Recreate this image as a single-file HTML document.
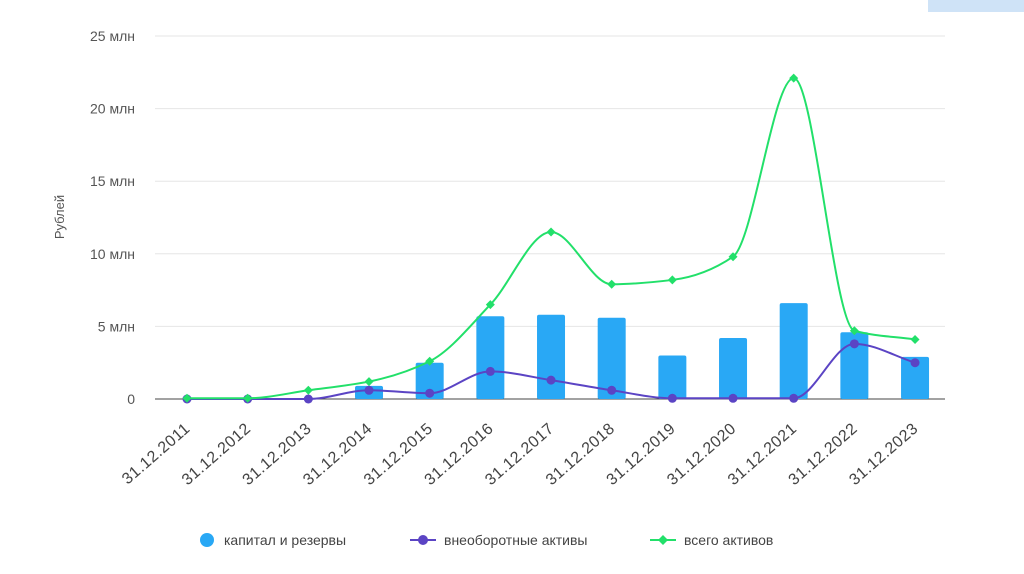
<!DOCTYPE html>
<html><head><meta charset="utf-8"><style>
body{margin:0;background:#fff;}
svg{display:block;font-family:"Liberation Sans",sans-serif;}
</style></head><body>
<svg id="c" width="1024" height="574">
<rect x="928" y="0" width="96" height="12" fill="#cfe3f7"/>
<g id="grid"></g><g id="bars"></g><g id="lines"></g><g id="xl"></g>
<text x="64" y="217" transform="rotate(-90 64 217)" text-anchor="middle" font-size="13" fill="#555">Рублей</text>
<g font-size="14" fill="#444">
<circle cx="207" cy="540" r="7" fill="#29a8f5"/>
<text x="224" y="545">капитал и резервы</text>
<line x1="410" y1="540" x2="436" y2="540" stroke="#5b44c4" stroke-width="2"/>
<circle cx="423" cy="540" r="5" fill="#5b44c4"/>
<text x="444" y="545">внеоборотные активы</text>
<line x1="650" y1="540" x2="676" y2="540" stroke="#22e06a" stroke-width="2"/>
<path d="M663 535 L668 540 L663 545 L658 540Z" fill="#22e06a"/>
<text x="684" y="545">всего активов</text>
</g>
</svg>
<script>
const categories=["31.12.2011","31.12.2012","31.12.2013","31.12.2014","31.12.2015","31.12.2016","31.12.2017","31.12.2018","31.12.2019","31.12.2020","31.12.2021","31.12.2022","31.12.2023"];
const capital=[0,0,0,0.9,2.5,5.7,5.8,5.6,3.0,4.2,6.6,4.6,2.9];
const nonCurrent=[0,0,0,0.6,0.4,1.9,1.3,0.6,0.05,0.05,0.05,3.8,2.5];
const total=[0.05,0.05,0.6,1.2,2.6,6.5,11.5,7.9,8.2,9.8,22.1,4.7,4.1];
const yTicks=[0,5,10,15,20,25];
const yTickLabels=["0","5 млн","10 млн","15 млн","20 млн","25 млн"];
const NS="http://www.w3.org/2000/svg";
const X=i=>187+i*60.67, Y=v=>399-v*14.52;
function mk(t,a,p){const e=document.createElementNS(NS,t);for(const k in a)e.setAttribute(k,a[k]);p.appendChild(e);return e;}
const g=document.getElementById('grid');
yTicks.forEach((t,i)=>{
 const l=mk('line',{x1:155,x2:945,y1:Y(t),y2:Y(t),stroke:t?'#e6e6e6':'#444','stroke-width':1},g);
 
 
 const tx=mk('text',{x:135,y:Y(t)+5,'text-anchor':'end','font-size':14,fill:'#555'},g);
 tx.textContent=yTickLabels[i];
 
 
});
const b=document.getElementById('bars');
capital.forEach((v,i)=>{if(v<=0)return;
 const r=mk('rect',{x:X(i)-14,y:Y(v),width:28,height:Y(0)-Y(v),fill:'#29a8f5',rx:2},b);
 
 
});
function path(vals){const p=vals.map((v,i)=>[X(i),Y(v)]);const n=p.length;
 const d=[],m=new Array(n).fill(0);
 for(let i=0;i<n-1;i++)d.push((p[i+1][1]-p[i][1])/(p[i+1][0]-p[i][0]));
 m[0]=d[0];m[n-1]=d[n-2];
 for(let i=1;i<n-1;i++){if(d[i-1]*d[i]<=0)m[i]=0;else m[i]=2/(1/d[i-1]+1/d[i]);}
 let s=`M${p[0][0]},${p[0][1]}`;
 for(let i=0;i<n-1;i++){const h=(p[i+1][0]-p[i][0])/3;
 s+=` C${p[i][0]+h},${p[i][1]+m[i]*h} ${p[i+1][0]-h},${p[i+1][1]-m[i+1]*h} ${p[i+1][0]},${p[i+1][1]}`;}return s;}
const L=document.getElementById('lines');
const pn=mk('path',{d:path(nonCurrent),fill:'none',stroke:'#5b44c4','stroke-width':2},L);


nonCurrent.forEach((v,i)=>{const c=mk('circle',{cx:X(i),cy:Y(v),r:4.5,fill:'#5b44c4'},L);
 
 });
const pt=mk('path',{d:path(total),fill:'none',stroke:'#22e06a','stroke-width':2},L);


total.forEach((v,i)=>{const x=X(i),y=Y(v);const c=mk('path',{d:`M${x} ${y-4.5}L${x+4.5} ${y}L${x} ${y+4.5}L${x-4.5} ${y}Z`,fill:'#22e06a'},L);
 
 });
const xl=document.getElementById('xl');
categories.forEach((c,i)=>{const x=X(i)+4,y=430;
 const t=mk('text',{x:x,y:y,'text-anchor':'end','font-size':16,fill:'#444','letter-spacing':0.5,transform:`rotate(-41 ${x} ${y})`},xl);
 t.textContent=c;
 
 });
</script>
</body></html>
